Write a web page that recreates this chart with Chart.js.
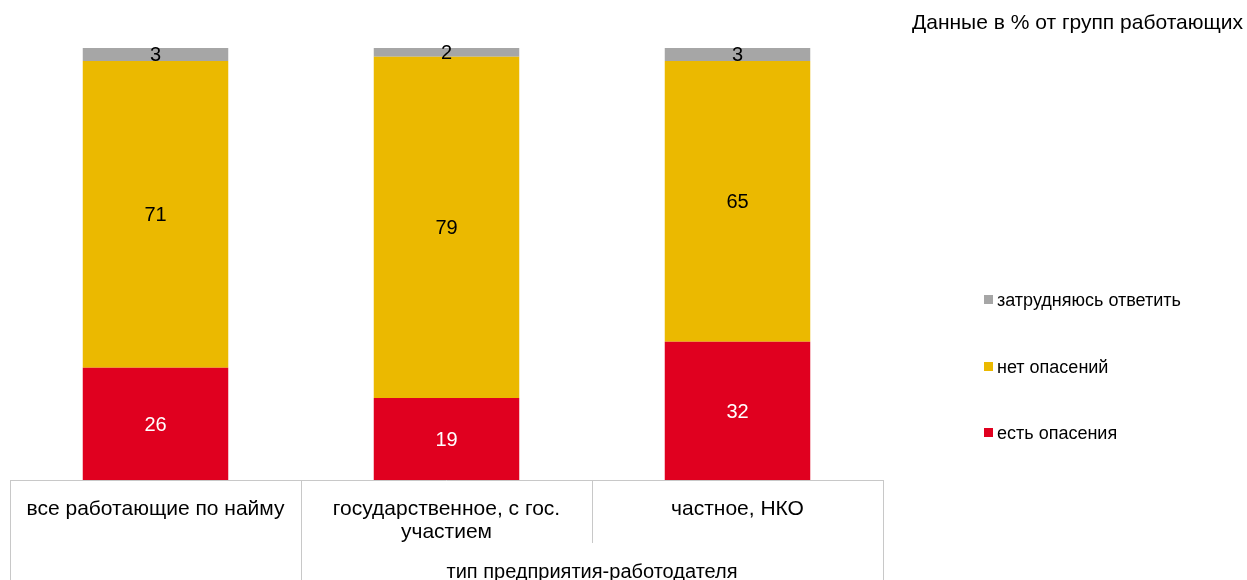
<!DOCTYPE html>
<html>
<head>
<meta charset="utf-8">
<script src="https://cdn.jsdelivr.net/npm/chart.js@4"></script>
<style>
  html, body { margin: 0; padding: 0; background: #fff; }
  #wrap { width: 1247px; height: 580px; position: relative; }
</style>
</head>
<body>
<div id="wrap"><canvas id="myChart" width="1247" height="580"></canvas></div>
<script>
// data
const categories = [
    'все работающие по найму',
    ['государственное, с гос.', 'участием'],
    'частное, НКО'
];
const seriesNames = ['есть опасения', 'нет опасений', 'затрудняюсь ответить'];
const fears = [26, 19, 32];
const noFears = [71, 79, 65];
const hardToSay = [3, 2, 3];

const chartTitle = 'Данные в % от групп работающих';
const axisTitle = 'тип предприятия-работодателя';

const colors = ['#e0001f', '#ebb900', '#a6a6a6'];
const labelColors = ['#ffffff', '#000000', '#000000'];
const FONT = 'Arial, "Liberation Sans", sans-serif';

// value labels in the middle of each segment
const segmentLabels = {
    id: 'segmentLabels',
    afterDatasetsDraw(chart) {
        const ctx = chart.ctx;
        ctx.save();
        ctx.font = '20px ' + FONT;
        ctx.textAlign = 'center';
        ctx.textBaseline = 'middle';
        chart.data.datasets.forEach((ds, i) => {
            chart.getDatasetMeta(i).data.forEach((bar, j) => {
                const mid = (bar.y + bar.base) / 2;
                ctx.fillStyle = labelColors[i];
                ctx.fillText(ds.data[j], bar.x, mid + 1.5);
            });
        });
        ctx.restore();
    }
};

// excel-like category table under the bars, legend and header
const extras = {
    id: 'extras',
    afterDraw(chart) {
        const ctx = chart.ctx;
        const area = chart.chartArea;
        const xs = chart.scales.x;
        const n = categories.length;
        const step = (area.right - area.left) / n;
        ctx.save();
        ctx.strokeStyle = '#c8c8c8';
        ctx.lineWidth = 1;
        ctx.beginPath();
        ctx.moveTo(area.left, area.bottom + 0.5);
        ctx.lineTo(area.right, area.bottom + 0.5);
        for (let i = 0; i <= n; i++) {
            const x = Math.round(area.left + i * step) + 0.5;
            const long = (i === 0 || i === 1 || i === n);
            ctx.moveTo(x, area.bottom);
            ctx.lineTo(x, long ? xs.bottom : area.bottom + 63);
        }
        ctx.stroke();

        // axis title sits in the merged cell under the last two groups
        ctx.fillStyle = '#000';
        ctx.font = '20px ' + FONT;
        ctx.textAlign = 'center';
        ctx.textBaseline = 'alphabetic';
        ctx.fillText(axisTitle, (area.left + step + area.right) / 2, 578);

        // header
        ctx.font = '21px ' + FONT;
        ctx.textAlign = 'right';
        ctx.fillText(chartTitle, 1243, 29);

        // legend, top item = last series
        ctx.font = '18px ' + FONT;
        ctx.textAlign = 'left';
        ctx.textBaseline = 'middle';
        const legendY = [300, 367, 433];
        for (let k = 0; k < seriesNames.length; k++) {
            const idx = seriesNames.length - 1 - k;
            ctx.fillStyle = colors[idx];
            ctx.fillRect(984, legendY[k] - 5, 9, 9);
            ctx.fillStyle = '#000';
            ctx.fillText(seriesNames[idx], 997, legendY[k] + 1);
        }
        ctx.restore();
    }
};

const ctx = document.getElementById('myChart').getContext('2d');
new Chart(ctx, {
    type: 'bar',
    data: {
        labels: categories,
        datasets: [
            { label: seriesNames[0], data: fears, backgroundColor: colors[0] },
            { label: seriesNames[1], data: noFears, backgroundColor: colors[1] },
            { label: seriesNames[2], data: hardToSay, backgroundColor: colors[2] }
        ]
    },
    options: {
        responsive: false,
        animation: false,
        layout: { padding: { top: 48, left: 10, right: 364, bottom: 0 } },
        datasets: { bar: { categoryPercentage: 0.5, barPercentage: 1, borderWidth: 0 } },
        plugins: {
            legend: { display: false },
            title: { display: false },
            tooltip: { enabled: false }
        },
        scales: {
            x: {
                stacked: true,
                grid: { display: false },
                border: { display: false },
                ticks: {
                    color: '#000',
                    padding: 10,
                    maxRotation: 0,
                    autoSkip: false,
                    font: { family: FONT, size: 21, lineHeight: 1.1 }
                },
                afterFit(scale) { scale.height = 100; }
            },
            y: {
                stacked: true,
                display: false,
                min: 0,
                max: 100
            }
        }
    },
    plugins: [segmentLabels, extras]
});
</script>
</body>
</html>
